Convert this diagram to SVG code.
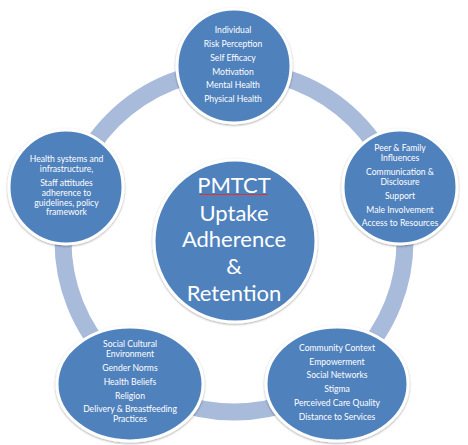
<svg xmlns="http://www.w3.org/2000/svg" width="468" height="445" viewBox="0 0 468 445">
<defs>
<filter id="sh" x="-20%" y="-20%" width="140%" height="140%">
<feDropShadow dx="0" dy="1" stdDeviation="1.2" flood-color="#000" flood-opacity="0.35"/>
</filter>
</defs>
<style>
.node{fill:#4F81BD;stroke:#FFFFFF;stroke-width:3;filter:url(#sh)}
.ring{fill:none;stroke:#A9BBDA;stroke-width:17}
.t{font-family:Lato,"Open Sans","Liberation Sans",sans-serif;font-size:8.6px;fill:#FFFFFF;text-anchor:middle}
.big{font-family:Lato,"Open Sans","Liberation Sans",sans-serif;font-size:22px;fill:#FFFFFF;text-anchor:middle}
</style>
<rect width="468" height="445" fill="#FFFFFF"/>
<g id="connectors">
<circle class="ring" cx="234" cy="241" r="171"/>
</g>
<g id="node-individual">
<circle class="node" cx="234" cy="66" r="57"/>
<text class="t" x="233" y="33">Individual</text>
<text class="t" x="233" y="47">Risk Perception</text>
<text class="t" x="233" y="61">Self Efficacy</text>
<text class="t" x="233" y="74.5">Motivation</text>
<text class="t" x="233" y="88">Mental Health</text>
<text class="t" x="233" y="102">Physical Health</text>
</g>
<g id="node-peer">
<circle class="node" cx="400" cy="187" r="57"/>
<text class="t" x="400" y="151.3">Peer &amp; Family</text>
<text class="t" x="400" y="161.3">Influences</text>
<text class="t" x="400" y="175.3">Communication &amp;</text>
<text class="t" x="400" y="185.3">Disclosure</text>
<text class="t" x="400" y="199">Support</text>
<text class="t" x="400" y="213">Male Involvement</text>
<text class="t" x="400" y="226.3">Access to Resources</text>
</g>
<g id="node-community">
<ellipse class="node" cx="337" cy="384" rx="71" ry="57"/>
<text class="t" x="337" y="350.7">Community Context</text>
<text class="t" x="337" y="364.7">Empowerment</text>
<text class="t" x="337" y="378.3">Social Networks</text>
<text class="t" x="337" y="392.3">Stigma</text>
<text class="t" x="337" y="406">Perceived Care Quality</text>
<text class="t" x="337" y="419.7">Distance to Services</text>
</g>
<g id="node-social">
<ellipse class="node" cx="130" cy="384" rx="73" ry="57"/>
<text class="t" x="130" y="347.3">Social Cultural</text>
<text class="t" x="130" y="357.3">Environment</text>
<text class="t" x="130" y="371.3">Gender Norms</text>
<text class="t" x="130" y="385">Health Beliefs</text>
<text class="t" x="130" y="398.7">Religion</text>
<text class="t" x="130" y="412.3">Delivery &amp; Breastfeeding</text>
<text class="t" x="130" y="422.3">Practices</text>
</g>
<g id="node-health">
<circle class="node" cx="66" cy="187" r="57"/>
<text class="t" x="66.5" y="162.3">Health systems and</text>
<text class="t" x="66.5" y="172">infrastructure,</text>
<text class="t" x="66.5" y="186.3">Staff attitudes</text>
<text class="t" x="66.5" y="196">adherence to</text>
<text class="t" x="66.5" y="205.7">guidelines, policy</text>
<text class="t" x="66.5" y="215.3">framework</text>
</g>
<g id="node-center">
<circle class="node" cx="235" cy="241" r="81"/>
<text class="big" x="234" y="193">PMTCT</text>
<line x1="200" y1="194.5" x2="268" y2="194.5" stroke="#E03030" stroke-width="1"/>
<text class="big" x="234" y="220.5">Uptake</text>
<text class="big" x="234" y="247">Adherence</text>
<text class="big" x="234" y="274">&amp;</text>
<text class="big" x="234" y="300.5">Retention</text>
</g>
</svg>
